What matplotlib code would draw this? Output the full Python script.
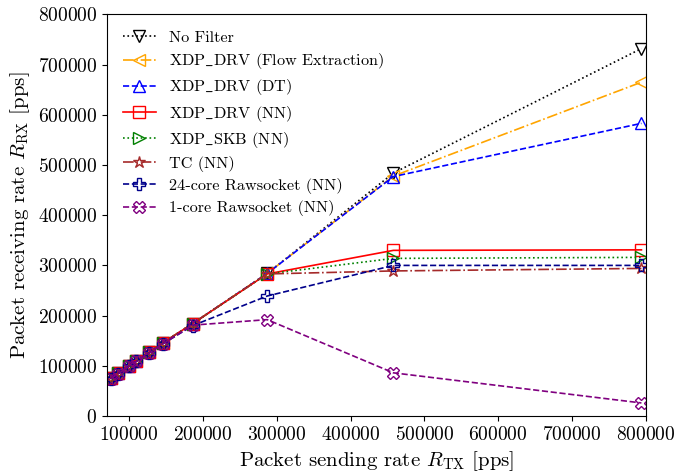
import matplotlib
matplotlib.use("Agg")
import matplotlib.pyplot as plt

plt.rcParams['font.family'] = 'serif'
plt.rcParams['font.serif'] = ['cmr10']
plt.rcParams['mathtext.fontset'] = 'cm'
plt.rcParams['axes.formatter.use_mathtext'] = True
plt.rcParams['axes.unicode_minus'] = False

# Data
tx_rate = [75000, 85000, 100000, 110000, 127000, 146000, 186000, 287000, 458000, 794000]

no_filter = [75000, 85000, 100000, 110000, 127000, 146000, 184000, 284000, 484000, 732000]
drv_flow = [75000, 85000, 100000, 110000, 127000, 146000, 184000, 284000, 478000, 665000]
drv_dt = [75000, 85000, 100000, 110000, 127000, 146000, 184000, 284000, 477000, 583000]
drv_nn = [75000, 85000, 100000, 110000, 127000, 146000, 184000, 283000, 330000, 331000]
skb_nn = [75000, 85000, 100000, 110000, 127000, 146000, 184000, 283000, 314000, 316000]
tc_nn = [75000, 85000, 100000, 110000, 127000, 146000, 184000, 283000, 289000, 294000]
raw24_nn = [74000, 84000, 99000, 109000, 125000, 144000, 180000, 239000, 300000, 300000]
raw1_nn = [74000, 84000, 99000, 109000, 125000, 144000, 181000, 192000, 86000, 26000]

labels = ['No Filter', r'XDP$\_$DRV (Flow Extraction)', r'XDP$\_$DRV (DT)', r'XDP$\_$DRV (NN)',
          r'XDP$\_$SKB (NN)', 'TC (NN)', '24-core Rawsocket (NN)', '1-core Rawsocket (NN)']
series = [no_filter, drv_flow, drv_dt, drv_nn, skb_nn, tc_nn, raw24_nn, raw1_nn]

# Styles
colors = ['black', 'orange', 'blue', 'red', 'green', 'brown', 'darkblue', 'purple']
markers = ['v', '<', '^', 's', '>', '*', 'P', 'X']
linestyles = [':', '-.', '--', '-', ':', '-.', '--', '--']

fig = plt.figure(figsize=(6.77, 4.73), dpi=100)
ax = fig.add_axes([0.158, 0.1205, 0.796, 0.849])

for vals, lab, c, m, ls in zip(series, labels, colors, markers, linestyles):
    ax.plot(tx_rate, vals, color=c, marker=m, linestyle=ls, label=lab,
            markersize=9, fillstyle='none', linewidth=1.2, markeredgewidth=1.0)

ax.set_xlim(70000, 800000)
ax.set_ylim(0, 800000)
ax.set_xticks(range(100000, 800001, 100000))
ax.set_yticks(range(0, 800001, 100000))
ax.ticklabel_format(style='plain')
ax.tick_params(labelsize=14)

ax.set_xlabel(r'Packet sending rate $R_{\rm TX}$ [pps]', fontsize=15)
ax.set_ylabel(r'Packet receiving rate $R_{\rm RX}$ [pps]', fontsize=15)

ax.legend(loc='upper left', frameon=False, fontsize=11.7, labelspacing=0.38,
          borderaxespad=0.6)

fig.savefig('out.png', dpi=100)
